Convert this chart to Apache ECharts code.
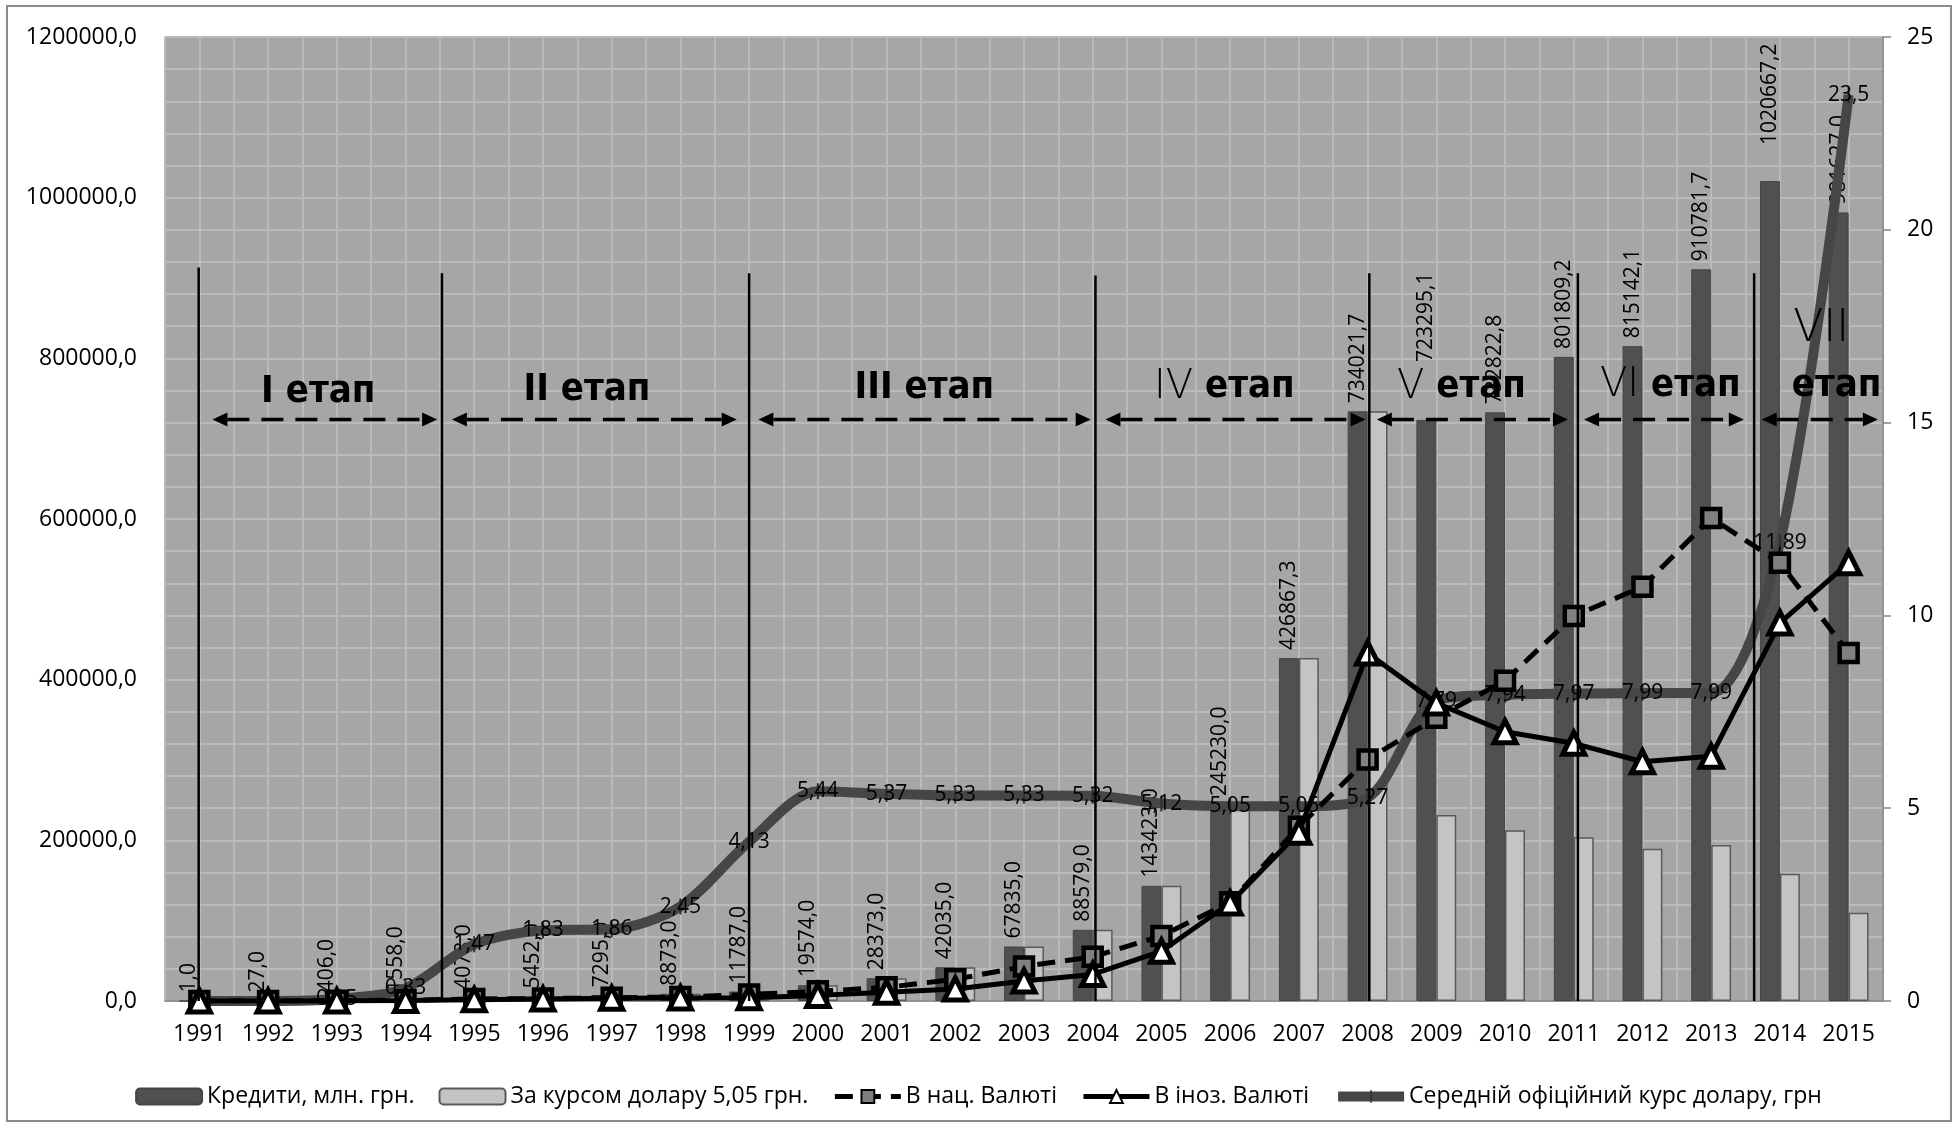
<!DOCTYPE html>
<html>
<head>
<meta charset="utf-8">
<script src="https://cdn.jsdelivr.net/npm/echarts@6/dist/echarts.min.js"></script>
<style>
html,body{margin:0;padding:0;background:#ffffff;}
#chart{width:1957px;height:1128px;}
</style>
</head>
<body>
<div id="chart"></div>
<script>
// ---------- DATA ----------
const years = ['1991','1992','1993','1994','1995','1996','1997','1998','1999','2000','2001','2002','2003','2004','2005','2006','2007','2008','2009','2010','2011','2012','2013','2014','2015'];
const credits = [1.0, 27.0, 406.0, 1558.0, 4078.0, 5452.0, 7295.0, 8873.0, 11787.0, 19574.0, 28373.0, 42035.0, 67835.0, 88579.0, 143423.0, 245230.0, 426867.3, 734021.7, 723295.1, 732822.8, 801809.2, 815142.1, 910781.7, 1020667.2, 981627.0];
const creditsAt505 = [1.0, 27.0, 406.0, 1558.0, 4078.0, 5452.0, 7295.0, 8873.0, 11787.0, 19574.0, 28373.0, 42035.0, 67835.0, 88579.0, 143423.0, 245230.0, 426867.3, 734021.7, 231600, 212500, 203900, 189500, 194100, 158400, 110000];
const nationalCurrency = [0.5, 20, 300, 1000, 2500, 3000, 4000, 5000, 8000, 12000, 17000, 27000, 43000, 55000, 81000, 123000, 217000, 300700, 352500, 398600, 479200, 515600, 601400, 545500, 433200];
const foreignCurrency = [0.5, 7, 106, 558, 1578, 2452, 3295, 3873, 4000, 7000, 11000, 15000, 25000, 33000, 62000, 122000, 210000, 433200, 370800, 335200, 320800, 297800, 304700, 470600, 545500];
const usdRate = [0, 0, 0.05, 0.33, 1.47, 1.83, 1.86, 2.45, 4.13, 5.44, 5.37, 5.33, 5.33, 5.32, 5.12, 5.05, 5.05, 5.27, 7.79, 7.94, 7.97, 7.99, 7.99, 11.89, 23.5];
const seriesNames = ['Кредити, млн. грн.', 'За курсом долару 5,05 грн.', 'В нац. Валюті', 'В іноз. Валюті', 'Середній офіційний курс долару, грн'];
const leftAxisTicks = { min: 0, max: 1200000, interval: 200000 };
const rightAxisTicks = { min: 0, max: 25, interval: 5 };

// ---------- ANNOTATIONS (stage marks; x in half-category units) ----------
const stageSeparators = [[0.98, 913000], [8.06, 906000], [17.0, 906000], [27.08, 903000], [35.05, 906000], [41.12, 906000], [46.25, 906000]];
const stageArrows = [[1.38, 7.92], [8.35, 16.64], [17.27, 26.94], [27.37, 34.94], [35.27, 40.83], [41.3, 45.95], [46.47, 49.85]];
const arrowLevel = 724000;
const stageLabels = [
  { u: 4.46, v: 758000, roman: 'I', bold: true },
  { u: 12.28, v: 760000, roman: 'II', bold: true },
  { u: 22.1, v: 763000, roman: 'III', bold: true },
  { u: 30.83, v: 764000, roman: 'IV', bold: false },
  { u: 37.73, v: 764000, roman: 'V', bold: false },
  { u: 43.81, v: 766000, roman: 'VI', bold: false }
];
const lastStage = { romanU: 48.2, romanV: 836000, wordU: 48.65, wordV: 766000, roman: 'VII' };
const stageWord = 'етап';

// ---------- STYLE ----------
const FONT = '"Open Sans", "Noto Sans", sans-serif';
const comma1 = v => Number(v).toFixed(1).replace('.', ',');
const commaRaw = v => String(v).replace('.', ',');
const labelDistanceExtra = { '2009': 58, '2014': 36 };
// thin vertical tick marker (Excel "+"-like dash marker)
const tickSymbol = 'path://M0,0 L0,0 M10,10 L10,10 M4.5,0 L5.5,0 L5.5,10 L4.5,10 Z';

const chart = echarts.init(document.getElementById('chart'), null, { renderer: 'canvas' });

const creditsData = credits.map((v, i) => {
  const item = { value: v };
  if (labelDistanceExtra[years[i]] !== undefined) item.label = { distance: labelDistanceExtra[years[i]] };
  return item;
});

const option = {
  animation: false,
  backgroundColor: '#ffffff',
  textStyle: { fontFamily: FONT },
  grid: { left: 165, right: 74, top: 37, bottom: 127, containLabel: false, outerBoundsMode: 'none',
          show: true, backgroundColor: '#a6a6a6', borderWidth: 0 },
  legend: {
    show: true, top: 1080, left: 'center',
    itemWidth: 66, itemHeight: 16, itemGap: 24,
    lineStyle: { width: 'inherit', type: 'inherit' },
    textStyle: { fontSize: 23, color: '#000', fontFamily: FONT },
    data: seriesNames
  },
  xAxis: [
    {
      type: 'category', data: years, boundaryGap: true, position: 'bottom',
      axisLine: { show: true, lineStyle: { color: '#868686', width: 1.5 } },
      axisTick: { show: false },
      splitLine: { show: false },
      axisLabel: { fontSize: 23, color: '#000', margin: 22, fontFamily: FONT, interval: 0 }
    },
    {
      type: 'value', min: 0, max: 50, interval: 1, position: 'top', show: true,
      axisLine: { show: false }, axisTick: { show: false }, axisLabel: { show: false },
      splitLine: { show: true, lineStyle: { color: '#bababa', width: 2 } }
    }
  ],
  yAxis: [
    {
      type: 'value', min: leftAxisTicks.min, max: leftAxisTicks.max, interval: leftAxisTicks.interval, position: 'left',
      axisLine: { show: false }, axisTick: { show: false },
      axisLabel: { fontSize: 23, color: '#000', margin: 28, formatter: comma1, fontFamily: FONT },
      splitLine: { show: true, lineStyle: { color: '#bababa', width: 2 } },
      minorTick: { show: false, splitNumber: 5 },
      minorSplitLine: { show: true, lineStyle: { color: '#bababa', width: 2 } }
    },
    {
      type: 'value', min: rightAxisTicks.min, max: rightAxisTicks.max, interval: rightAxisTicks.interval, position: 'right',
      axisLine: { show: true, lineStyle: { color: '#868686', width: 1.5 } },
      axisTick: { show: true, inside: false, length: 8, lineStyle: { color: '#868686', width: 1.5 } },
      axisLabel: { fontSize: 23, color: '#000', margin: 24, fontFamily: FONT },
      splitLine: { show: false }
    }
  ],
  series: [
    {
      name: seriesNames[0], type: 'bar', xAxisIndex: 0, yAxisIndex: 0, data: creditsData,
      barWidth: '29%', barGap: '0%', z: 2,
      itemStyle: { color: '#505050', borderColor: '#454545', borderWidth: 1 },
      emphasis: { disabled: true },
      label: { show: true, position: 'top', rotate: 90, align: 'left', verticalAlign: 'middle', distance: 8,
               formatter: p => comma1(p.value), fontSize: 21, color: '#000', fontFamily: FONT }
    },
    {
      name: seriesNames[1], type: 'bar', xAxisIndex: 0, yAxisIndex: 0, data: creditsAt505,
      barWidth: '29%', barGap: '0%', z: 2,
      itemStyle: { color: '#c4c4c4', borderColor: '#5a5a5a', borderWidth: 1.5 },
      emphasis: { disabled: true }
    },
    {
      name: seriesNames[2], type: 'line', xAxisIndex: 0, yAxisIndex: 0, data: nationalCurrency, z: 4,
      symbol: 'rect', symbolSize: 18, showAllSymbol: true,
      lineStyle: { color: '#000', width: 5, type: [18, 10] },
      itemStyle: { color: '#808080', borderColor: '#000', borderWidth: 4.5 },
      emphasis: { disabled: true }
    },
    {
      name: seriesNames[3], type: 'line', xAxisIndex: 0, yAxisIndex: 0, data: foreignCurrency, z: 5,
      symbol: 'triangle', symbolSize: 22, showAllSymbol: true,
      lineStyle: { color: '#000', width: 5 },
      itemStyle: { color: '#ffffff', borderColor: '#000', borderWidth: 5 },
      emphasis: { disabled: true }
    },
    {
      name: seriesNames[4], type: 'line', xAxisIndex: 0, yAxisIndex: 1, data: usdRate, z: 3,
      smooth: 0.3, symbol: tickSymbol, symbolSize: [20, 16], showAllSymbol: true,
      lineStyle: { color: '#464646', width: 10 },
      itemStyle: { color: '#2e2e2e' },
      emphasis: { disabled: true },
      label: { show: true, position: 'inside', formatter: p => commaRaw(p.value), fontSize: 21, color: '#000', fontFamily: FONT }
    }
  ]
};

chart.setOption(option);

// ---------- Stage annotations via the chart's own scales ----------
function px(u, v) { return chart.convertToPixel({ xAxisIndex: 1, yAxisIndex: 0 }, [u, v]); }
const elements = [];
stageSeparators.forEach(([u, top]) => {
  const a = px(u, top), b = px(u, 0);
  elements.push({ type: 'line', z: 100, silent: true,
    shape: { x1: a[0], y1: a[1], x2: b[0], y2: b[1] }, style: { stroke: '#000', lineWidth: 2.5 } });
});
stageArrows.forEach(([u1, u2]) => {
  const a = px(u1, arrowLevel), b = px(u2, arrowLevel);
  const y = a[1], L = 15, H = 7;
  elements.push({ type: 'line', z: 100, silent: true,
    shape: { x1: a[0] + L, y1: y, x2: b[0] - L, y2: y },
    style: { stroke: '#000', lineWidth: 3.5, lineDash: [22, 12] } });
  elements.push({ type: 'polygon', z: 100, silent: true,
    shape: { points: [[a[0], y], [a[0] + L, y - H], [a[0] + L, y + H]] }, style: { fill: '#000' } });
  elements.push({ type: 'polygon', z: 100, silent: true,
    shape: { points: [[b[0], y], [b[0] - L, y - H], [b[0] - L, y + H]] }, style: { fill: '#000' } });
});
const richStyles = {
  b: { fontSize: 38, fontWeight: 'bold', fontFamily: '"DejaVu Sans Condensed", "Liberation Sans", sans-serif', fill: '#000' },
  r: { fontSize: 40, fontWeight: 200, fontFamily: '"DejaVu Sans", sans-serif', fill: '#000' }
};
stageLabels.forEach(s => {
  const p = px(s.u, s.v);
  const text = s.bold ? '{b|' + s.roman + ' ' + stageWord + '}' : '{r|' + s.roman + '}{b| ' + stageWord + '}';
  elements.push({ type: 'text', z: 101, silent: true, x: p[0], y: p[1],
    style: { text: text, rich: richStyles, align: 'center', verticalAlign: 'middle', fill: '#000' } });
});
{
  const p1 = px(lastStage.romanU, lastStage.romanV);
  elements.push({ type: 'text', z: 101, silent: true, x: p1[0], y: p1[1],
    style: { text: '{r|' + lastStage.roman + '}', rich: { r: Object.assign({}, richStyles.r, { fontSize: 44 }) }, align: 'center', verticalAlign: 'middle' } });
  const p2 = px(lastStage.wordU, lastStage.wordV);
  elements.push({ type: 'text', z: 101, silent: true, x: p2[0], y: p2[1],
    style: { text: '{b|' + stageWord + '}', rich: richStyles, align: 'center', verticalAlign: 'middle' } });
}
// outer chart frame
elements.push({ type: 'rect', z: 0, silent: true, shape: { x: 7, y: 6, width: 1944, height: 1115 },
  style: { fill: 'none', stroke: '#8c8c8c', lineWidth: 2 } });
chart.setOption({ graphic: { elements: elements } });
</script>
</body>
</html>
